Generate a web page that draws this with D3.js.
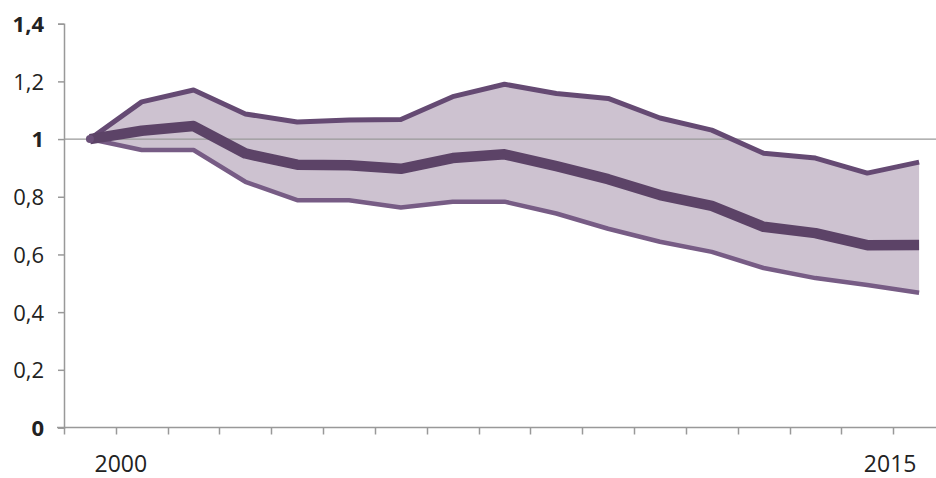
<!DOCTYPE html>
<html>
<head>
<meta charset="utf-8">
<script src="https://cdn.jsdelivr.net/npm/d3@7"></script>
<style>
  body { margin: 0; background: #fff; }
  svg text { font-family: "Open Sans", sans-serif; fill: #222; }
</style>
</head>
<body>
<svg id="chart" width="936" height="478"></svg>
<script>
// index relative to year 1999 base; labels only on 2000 and 2015
var years = d3.range(1999, 2016)
var upper = [1.0, 1.129, 1.17, 1.087, 1.059, 1.066, 1.068, 1.147, 1.19, 1.158, 1.141, 1.073, 1.031, 0.951, 0.934, 0.882, 0.92]
var middle = [1.0, 1.029, 1.045, 0.95, 0.911, 0.909, 0.897, 0.934, 0.947, 0.906, 0.861, 0.806, 0.768, 0.696, 0.674, 0.632, 0.633]
var lower = [1.0, 0.962, 0.962, 0.852, 0.788, 0.788, 0.763, 0.783, 0.783, 0.742, 0.689, 0.644, 0.609, 0.553, 0.518, 0.494, 0.467]
var yTicks = [0, 0.2, 0.4, 0.6, 0.8, 1, 1.2, 1.4]
var boldTicks = [0, 1, 1.4]
var xLabels = [2000, 2015]

var svg = d3.select('#chart')

var x = d3.scaleBand().domain(years).range([64, 945]).padding(0)
var y = d3.scaleLinear().domain([0, 1.4]).range([427.5, 23.7])
var cx = function (i) { return x(years[i]) + x.bandwidth() / 2 }

var fmt = function (d) { return String(d).replace('.', ',') }

// band fill
var area = d3.area()
    .x(function (d, i) { return cx(i) })
    .y0(function (d, i) { return y(lower[i]) })
    .y1(function (d, i) { return y(d) })

svg.append('path')
    .datum(upper)
    .attr('d', area)
    .attr('fill', '#cdc2d0')

// reference line at 1
svg.append('line')
    .attr('x1', 64).attr('x2', 936)
    .attr('y1', y(1)).attr('y2', y(1))
    .attr('stroke', '#999').attr('stroke-width', 1.3)

var line = d3.line()
    .x(function (d, i) { return cx(i) })
    .y(function (d) { return y(d) })

svg.append('path').datum(lower).attr('d', line)
    .attr('fill', 'none').attr('stroke', '#775c85').attr('stroke-width', 4.5)
    .attr('stroke-linejoin', 'round')
svg.append('path').datum(upper).attr('d', line)
    .attr('fill', 'none').attr('stroke', '#654a73').attr('stroke-width', 5)
    .attr('stroke-linejoin', 'round')
svg.append('path').datum(middle).attr('d', line)
    .attr('fill', 'none').attr('stroke', '#5c4367').attr('stroke-width', 10.5)
    .attr('stroke-linejoin', 'round')

svg.append('circle')
    .attr('cx', cx(0)).attr('cy', y(1)).attr('r', 4)
    .attr('fill', '#6a4f78')

// y axis
var yAxis = svg.append('g')
    .attr('transform', 'translate(64,0)')
    .call(d3.axisLeft(y).tickValues(yTicks).tickSize(6).tickPadding(14).tickFormat(fmt))
yAxis.select('.domain').attr('stroke', '#999').attr('stroke-width', 1.5)
yAxis.selectAll('.tick line').attr('stroke', '#999').attr('stroke-width', 1.5)
yAxis.selectAll('.tick text')
    .attr('font-family', null)
    .style('font-size', '22px')
    .attr('font-weight', function (d) { return boldTicks.indexOf(d) >= 0 ? 'bold' : null })
    .attr('fill', '#222')
    .attr('dy', '0.36em')

// x axis: ticks on band edges
var xAxis = svg.append('g').attr('transform', 'translate(0,' + y(0) + ')')
xAxis.append('line')
    .attr('x1', 57).attr('x2', 936)
    .attr('stroke', '#999').attr('stroke-width', 1.5)
xAxis.selectAll('line.tick')
    .data(years)
    .enter()
    .append('line')
    .attr('class', 'tick')
    .attr('x1', function (d) { return Math.round(x(d)) + 0.5 })
    .attr('x2', function (d) { return Math.round(x(d)) + 0.5 })
    .attr('y1', 0).attr('y2', 7)
    .attr('stroke', '#999').attr('stroke-width', 1.5)
xAxis.selectAll('text')
    .data(xLabels)
    .enter()
    .append('text')
    .attr('x', function (d, i) { return x(d) + (i === 0 ? 5 : -3) })
    .attr('y', 44)
    .attr('text-anchor', 'middle')
    .style('font-size', '23px')
    .attr('fill', '#111')
    .text(function (d) { return d })
</script>
</body>
</html>
